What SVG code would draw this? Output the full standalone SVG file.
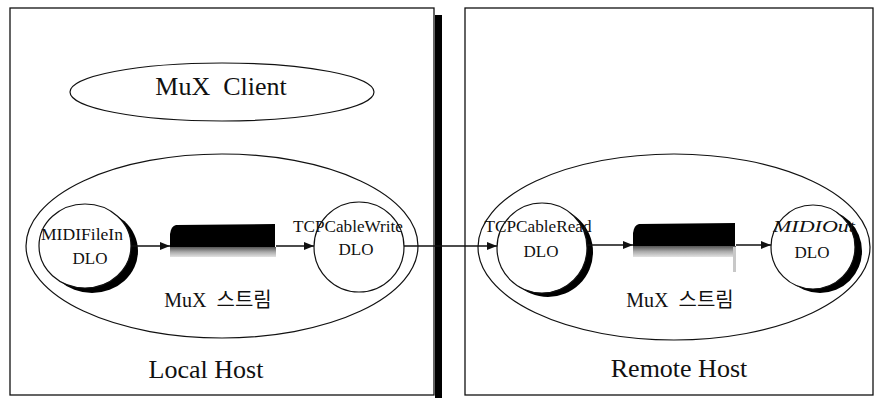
<svg xmlns="http://www.w3.org/2000/svg" width="881" height="405" viewBox="0 0 881 405">
  <style>
    .frame { fill: #fff; stroke: #111; stroke-width: 1.3; }
    .outline { fill: none; stroke: #111; stroke-width: 1.2; }
    .disc { fill: #fff; stroke: #111; stroke-width: 1.2; }
    .shade { fill: #000; }
    .wire { fill: none; stroke: #111; stroke-width: 1.3; }
    .lbl { font-family: "Liberation Serif", "Times New Roman", "Noto Sans CJK KR", serif; fill: #111; text-anchor: middle; }
    .big { font-size: 26px; }
    .mid { font-size: 20px; }
    .small { font-size: 17px; }
    .kr { font-family: "Liberation Serif", "Noto Sans CJK KR", sans-serif; }
  </style>
  <defs>
    <marker id="arrow" viewBox="0 0 10 8" refX="10" refY="4" markerWidth="10" markerHeight="8" markerUnits="userSpaceOnUse" orient="auto">
      <path d="M0,0 L10,4 L0,8 Z" fill="#111"/>
    </marker>
    <linearGradient id="pipeGrain" x1="0" y1="0" x2="0" y2="1">
      <stop offset="0" stop-color="#555"/>
      <stop offset="0.5" stop-color="#aaa"/>
      <stop offset="1" stop-color="#e2e2e2"/>
    </linearGradient>
  </defs>

  <!-- host frames -->
  <g id="local-host">
    <rect class="frame" x="10" y="8" width="424" height="387"/>
    <rect class="shade" x="435" y="15" width="7" height="383"/>
    <text class="lbl big" x="206" y="378">Local Host</text>
  </g>
  <g id="remote-host">
    <rect class="frame" x="465" y="8" width="408" height="387"/>
    <text class="lbl big" x="679" y="377">Remote Host</text>
  </g>

  <!-- client -->
  <g id="mux-client">
    <ellipse class="outline" cx="222" cy="92" rx="152" ry="29"/>
    <text class="lbl big" x="221" y="95" xml:space="preserve">MuX  Client</text>
  </g>

  <!-- streams -->
  <g id="local-stream">
    <ellipse class="outline" cx="222" cy="246" rx="196" ry="92"/>
    <text class="lbl mid kr" x="218" y="307" xml:space="preserve">MuX  스트림</text>
  </g>
  <g id="remote-stream">
    <ellipse class="outline" cx="674" cy="247" rx="196" ry="93"/>
    <text class="lbl mid kr" x="680" y="307" xml:space="preserve">MuX  스트림</text>
  </g>

  <!-- DLO nodes -->
  <g id="midi-file-in">
    <ellipse class="shade" cx="92" cy="251" rx="46" ry="42"/>
    <ellipse class="disc" cx="85" cy="246" rx="46" ry="42"/>
    <text class="lbl small" x="82" y="240" textLength="82" lengthAdjust="spacingAndGlyphs">MIDIFileIn</text>
    <text class="lbl small" x="90" y="264">DLO</text>
  </g>
  <g id="local-queue">
    <path class="shade" d="M176,225 L275,224 L275,248 L170,249 L170,234 Q171,226 176,225 Z"/>
    <rect x="170" y="247" width="106" height="10" fill="url(#pipeGrain)"/>
  </g>
  <g id="tcp-cable-write">
    <circle class="disc" cx="359" cy="247" r="45"/>
    <text class="lbl small" x="348" y="232" textLength="110" lengthAdjust="spacingAndGlyphs">TCPCableWrite</text>
    <text class="lbl small" x="356" y="255">DLO</text>
  </g>
  <g id="tcp-cable-read">
    <circle class="shade" cx="548" cy="252" r="45"/>
    <circle class="disc" cx="542" cy="248" r="45"/>
    <text class="lbl small" x="538" y="232" textLength="107" lengthAdjust="spacingAndGlyphs">TCPCableRead</text>
    <text class="lbl small" x="541" y="257">DLO</text>
  </g>
  <g id="remote-queue">
    <path class="shade" d="M639,224 L735,223 L735,247 L633,248 L633,233 Q634,225 639,224 Z"/>
    <rect x="633" y="246" width="103" height="11" fill="url(#pipeGrain)"/>
    <rect x="733" y="247" width="3" height="25" fill="#c8c8c8"/>
  </g>
  <g id="midi-out">
    <circle class="shade" cx="820" cy="251" r="42"/>
    <circle class="disc" cx="813" cy="247" r="42"/>
    <text class="lbl small" x="814" y="232" font-style="italic" textLength="82" lengthAdjust="spacingAndGlyphs">MIDIOut</text>
    <text class="lbl small" x="812" y="258">DLO</text>
  </g>

  <!-- data flow -->
  <g id="connectors">
    <line class="wire" x1="131" y1="246" x2="170" y2="246" marker-end="url(#arrow)"/>
    <line class="wire" x1="276" y1="246" x2="314" y2="246" marker-end="url(#arrow)"/>
    <line class="wire" x1="404" y1="246" x2="497" y2="246" marker-end="url(#arrow)"/>
    <line class="wire" x1="587" y1="245" x2="633" y2="245" marker-end="url(#arrow)"/>
    <line class="wire" x1="736" y1="245" x2="771" y2="245" marker-end="url(#arrow)"/>
  </g>
</svg>
